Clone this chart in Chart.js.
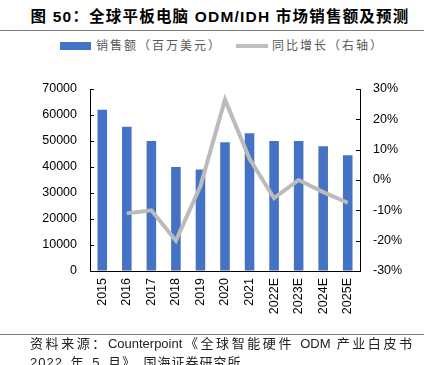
<!DOCTYPE html>
<html>
<head>
<meta charset="utf-8">
<script src="https://cdn.jsdelivr.net/npm/chart.js@4.4.1/dist/chart.umd.min.js"></script>
<style>
  html, body { margin: 0; padding: 0; background: #fff; }
  body { width: 424px; height: 365px; position: relative; overflow: hidden; font-family: "Noto Sans CJK SC", sans-serif; }
  .title { position: absolute; left: 8px; width: 424px; top: 4px; text-align: center; font-family: "Liberation Sans", "Noto Sans CJK SC", sans-serif; font-size: 15.5px; font-weight: bold; color: #000; letter-spacing: 1.2px; white-space: nowrap; }
  .rule { position: absolute; left: 0; width: 424px; height: 1px; background: #7f7f7f; }
  .legend { position: absolute; top: 36px; left: 0; width: 424px; height: 18px; font-size: 12px; color: #595959; letter-spacing: 2px; }
  .legend span { position: absolute; top: 0; white-space: nowrap; }
  .swatch-bar { position: absolute; left: 60px; top: 42px; width: 31px; height: 8px; background: #4472C4; }
  .swatch-line { position: absolute; left: 236px; top: 44px; width: 32px; height: 4px; background: #BFBFBF; }
  .source { position: absolute; left: 30px; width: 382px; font-family: "Liberation Sans", "Noto Sans CJK SC", sans-serif; font-size: 13px; line-height: 19px; color: #222; white-space: nowrap; }
  .source.l1 { top: 334px; text-align: justify; text-align-last: justify; }
  .source.l2 { top: 353px; letter-spacing: 1px; word-spacing: 3px; }
  canvas { position: absolute; left: 0; top: 60px; }
</style>
</head>
<body>
<div class="title">图 50：全球平板电脑 ODM/IDH 市场销售额及预测</div>
<div class="rule" style="top:30px"></div>
<div class="swatch-bar"></div>
<div class="swatch-line"></div>
<div class="legend">
  <span style="left:96px">销售额（百万美元）</span>
  <span style="left:272px">同比增长（右轴）</span>
</div>
<canvas id="chart" width="424" height="275"></canvas>
<div class="rule" style="top:334px"></div>
<div class="source l1">资料来源：Counterpoint《全球智能硬件 ODM 产业白皮书</div>
<div class="source l2">2022 年 5 月》，国海证券研究所</div>

<script>
// 数据
const years = ['2015', '2016', '2017', '2018', '2019', '2020', '2021', '2022E', '2023E', '2024E', '2025E'];
const sales = [62000, 55500, 50000, 40000, 39000, 49500, 53000, 50000, 50000, 48000, 44500];
const growth = [null, -11, -10, -20, -2, 26.5, 7, -6, 0, -4, -7.5];
const leftTicks = [0, 10000, 20000, 30000, 40000, 50000, 60000, 70000];
const rightTicks = [-30, -20, -10, 0, 10, 20, 30];

const tickFont = { family: 'Liberation Sans', size: 12.5 };

// 轴上朝内的小刻度
const innerTicks = {
  id: 'innerTicks',
  afterDatasetsDraw(chart) {
    const ctx = chart.ctx;
    ctx.save();
    ctx.strokeStyle = '#000';
    ctx.lineWidth = 1;
    ['y', 'y1'].forEach(id => {
      const s = chart.scales[id];
      const x = id === 'y' ? chart.chartArea.left : chart.chartArea.right;
      const dir = id === 'y' ? 1 : -1;
      s.ticks.forEach((t, i) => {
        const py = Math.round(s.getPixelForTick(i)) + 0.5;
        ctx.beginPath();
        ctx.moveTo(x, py);
        ctx.lineTo(x + dir * 4, py);
        ctx.stroke();
      });
    });
    ctx.restore();
  }
};

new Chart(document.getElementById('chart'), {
  data: {
    labels: years,
    datasets: [
      {
        type: 'line',
        label: '同比增长（右轴）',
        data: growth,
        yAxisID: 'y1',
        borderColor: '#BBBBBB',
        borderWidth: 4,
        pointRadius: 0,
        tension: 0,
        order: 0
      },
      {
        type: 'bar',
        label: '销售额（百万美元）',
        data: sales,
        yAxisID: 'y',
        backgroundColor: '#4472C4',
        barPercentage: 0.39,
        categoryPercentage: 1,
        order: 1
      }
    ]
  },
  options: {
    responsive: false,
    animation: false,
    layout: { padding: { top: 29, left: 0, right: 0, bottom: 0 } },
    plugins: { legend: { display: false }, tooltip: { enabled: false } },
    scales: {
      x: {
        grid: { display: false, drawTicks: false },
        border: { display: true, color: '#000', width: 1 },
        ticks: { color: '#000', font: tickFont, maxRotation: 90, minRotation: 90, padding: 7, autoSkip: false },
        afterFit: s => { s.height = 64; }
      },
      y: {
        position: 'left',
        min: 0, max: 70000,
        afterBuildTicks: s => { s.ticks = leftTicks.map(v => ({ value: v })); },
        grid: { drawOnChartArea: false, drawTicks: false },
        border: { color: '#000', width: 1 },
        ticks: { color: '#000', font: tickFont, padding: 13, callback: v => String(v) },
        afterFit: s => { s.width = 90; }
      },
      y1: {
        position: 'right',
        min: -30, max: 30,
        afterBuildTicks: s => { s.ticks = rightTicks.map(v => ({ value: v })); },
        grid: { drawOnChartArea: false, drawTicks: false },
        border: { color: '#000', width: 1 },
        ticks: { color: '#000', font: tickFont, padding: 13, callback: v => v + '%' },
        afterFit: s => { s.width = 64; }
      }
    }
  },
  plugins: [innerTicks]
});
</script>
</body>
</html>
